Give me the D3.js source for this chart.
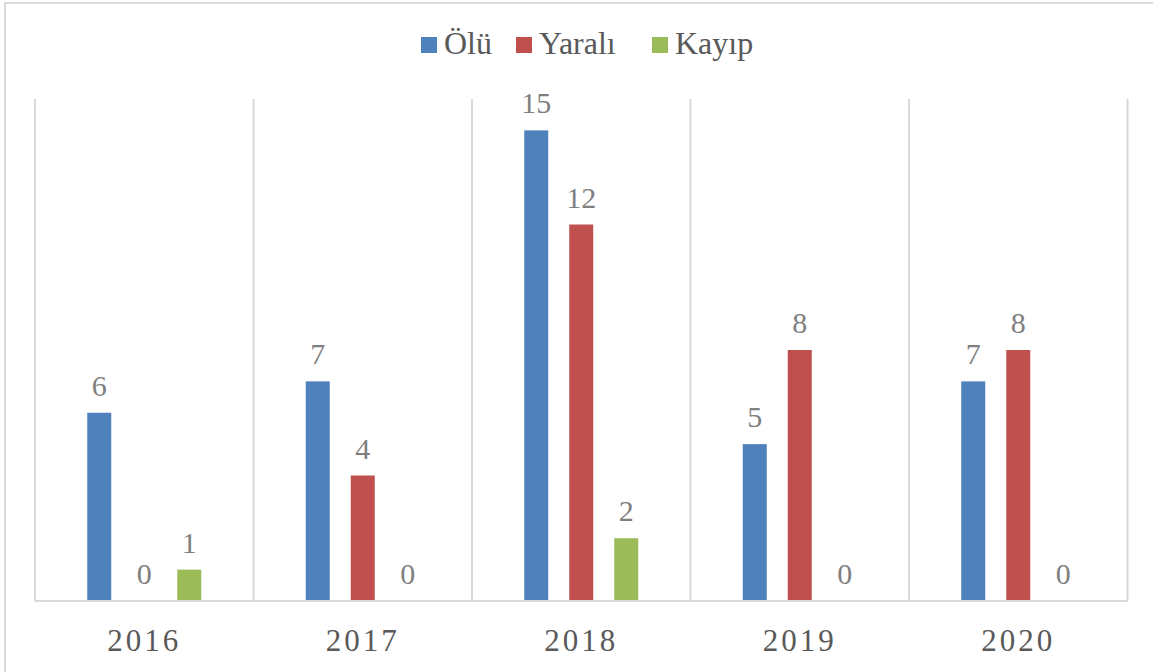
<!DOCTYPE html>
<html>
<head>
<meta charset="utf-8">
<script src="https://cdn.jsdelivr.net/npm/d3@7"></script>
<style>
  body { margin: 0; background: #fff; }
  svg { display: block; }
</style>
</head>
<body>
<div id="canvas"></div>
<script>
// data
var years = ["2016", "2017", "2018", "2019", "2020"];
var seriesNames = ["Ölü", "Yaralı", "Kayıp"];
var olu = [6, 7, 15, 5, 7];
var yarali = [0, 4, 12, 8, 8];
var kayip = [1, 0, 2, 0, 0];
var seriesColors = ["#4f81bd", "#c0504d", "#9bbb59"];

var width = 1153, height = 672;
var plot = { left: 35, right: 1127.5, top: 99, bottom: 601 };
var serif = "'Liberation Serif', 'Times New Roman', Times, serif";

var svg = d3.select("#canvas")
  .append("svg")
  .attr("width", width)
  .attr("height", height);

// outer chart border (continues past the window)
svg.append("rect")
  .attr("x", 5).attr("y", 3)
  .attr("width", 1200).attr("height", 720)
  .attr("fill", "#fff")
  .attr("stroke", "#d9d9d9")
  .attr("stroke-width", 2);

// scales
var x0 = d3.scaleBand()
  .domain(years)
  .range([plot.left, plot.right]);

var x1 = d3.scaleBand()
  .domain(seriesNames)
  .range([-57, 57])
  .paddingInner(21 / 45);

var y = d3.scaleLinear()
  .domain([0, 16])
  .range([plot.bottom, plot.top]);

// vertical gridlines at category boundaries
var bounds = years.map(function(d) { return x0(d); }).concat([plot.right]);
svg.append("g")
  .selectAll("line")
  .data(bounds)
  .join("line")
  .attr("x1", function(d) { return d; })
  .attr("x2", function(d) { return d; })
  .attr("y1", plot.top)
  .attr("y2", plot.bottom)
  .attr("stroke", "#d9d9d9")
  .attr("stroke-width", 2);

// build rows for the bars
var values = [olu, yarali, kayip];
var rows = [];
years.forEach(function(yr, i) {
  seriesNames.forEach(function(s, j) {
    rows.push({ year: yr, series: s, value: values[j][i], color: seriesColors[j] });
  });
});

function barX(d) {
  return x0(d.year) + x0.bandwidth() / 2 + x1(d.series);
}

svg.append("g")
  .selectAll("rect")
  .data(rows)
  .join("rect")
  .attr("x", barX)
  .attr("y", function(d) { return y(d.value); })
  .attr("width", x1.bandwidth())
  .attr("height", function(d) { return y(0) - y(d.value); })
  .attr("fill", function(d) { return d.color; });

// value labels
svg.append("g")
  .selectAll("text")
  .data(rows)
  .join("text")
  .attr("x", function(d) { return barX(d) + x1.bandwidth() / 2; })
  .attr("y", function(d) { return y(d.value) - 17; })
  .attr("text-anchor", "middle")
  .style("font-family", serif)
  .style("font-size", "30px")
  .style("fill", "#7f7f7f")
  .text(function(d) { return d.value; });

// x axis
var xAxis = svg.append("g")
  .attr("transform", "translate(0," + plot.bottom + ")")
  .call(d3.axisBottom(x0).tickSize(0).tickPadding(0));
xAxis.select(".domain")
  .attr("stroke", "#d9d9d9")
  .attr("stroke-width", 2)
  .attr("d", "M" + plot.left + ",0H" + plot.right);
xAxis.selectAll(".tick text")
  .attr("dy", null)
  .attr("y", 50)
  .attr("dx", 0)
  .style("font-family", serif)
  .style("font-size", "31px")
  .style("letter-spacing", "3px")
  .style("fill", "#595959");

// legend
var legendX = [421, 516, 652];
var legend = svg.append("g");
seriesNames.forEach(function(s, i) {
  legend.append("rect")
    .attr("x", legendX[i]).attr("y", 37)
    .attr("width", 16).attr("height", 16)
    .attr("fill", seriesColors[i]);
  legend.append("text")
    .attr("x", legendX[i] + 23).attr("y", 54)
    .style("font-family", serif)
    .style("font-size", "32px")
    .style("fill", "#595959")
    .text(s);
});
</script>
</body>
</html>
